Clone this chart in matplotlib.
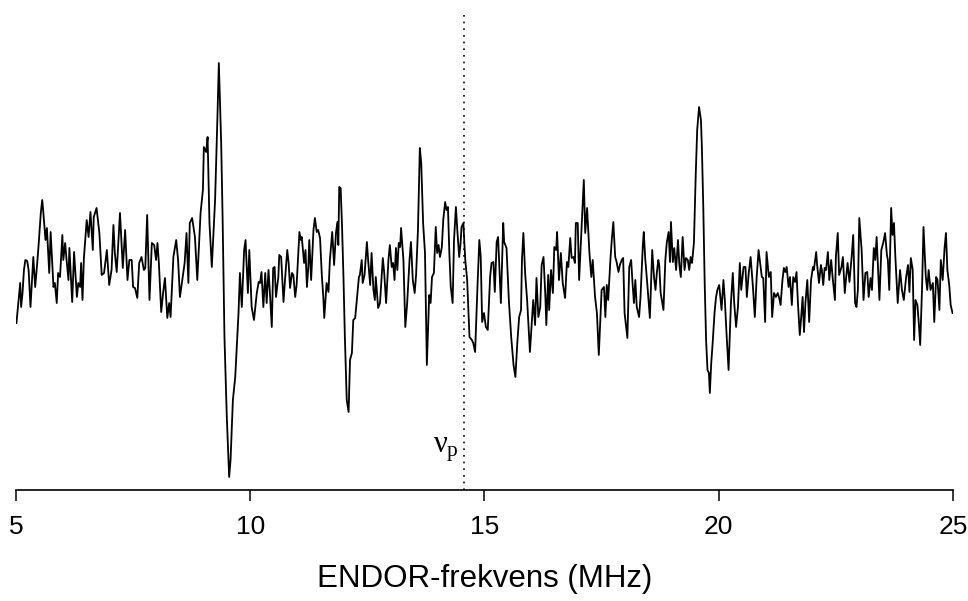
import numpy as np
import matplotlib.pyplot as plt

# ENDOR spectrum (frequency in MHz, signal in arb. units)
freq = [
    5.01, 5.09, 5.11, 5.14, 5.17, 5.20, 5.24, 5.27, 5.31, 5.37, 5.41, 5.45, 5.48, 5.53, 5.56, 5.58,
    5.63, 5.66, 5.71, 5.74, 5.80, 5.83, 5.87, 5.90, 5.94, 5.99, 6.01, 6.05, 6.08, 6.12, 6.14, 6.20,
    6.24, 6.30, 6.33, 6.37, 6.39, 6.42, 6.45, 6.51, 6.55, 6.59, 6.64, 6.66, 6.72, 6.78, 6.83, 6.88,
    6.94, 6.99, 7.04, 7.08, 7.11, 7.15, 7.22, 7.28, 7.33, 7.38, 7.42,
    7.47, 7.50, 7.54, 7.59, 7.63, 7.68, 7.73, 7.76, 7.80, 7.85, 7.90, 7.95, 7.99, 8.02, 8.05, 8.10,
    8.14, 8.18, 8.23, 8.27, 8.30, 8.36, 8.42, 8.46,
    8.50, 8.56, 8.60, 8.64, 8.68, 8.71, 8.76, 8.82, 8.87, 8.94, 8.99, 9.01, 9.06, 9.09, 9.13, 9.18,
    9.25, 9.30, 9.33, 9.38, 9.41, 9.45, 9.50, 9.55, 9.58, 9.63, 9.68, 9.75, 9.78, 9.82, 9.87, 9.90,
    9.95, 9.98, 10.03, 10.08, 10.14, 10.18,
    10.21, 10.24, 10.28, 10.32, 10.35, 10.39, 10.42, 10.46, 10.49, 10.52, 10.55, 10.60, 10.62, 10.66,
    10.71, 10.75, 10.79, 10.82, 10.85, 10.89, 10.92, 10.96, 10.99, 11.05, 11.08, 11.10, 11.15, 11.18,
    11.21, 11.24, 11.26, 11.30, 11.35, 11.38, 11.42, 11.45, 11.49, 11.53, 11.56, 11.58, 11.63, 11.67,
    11.70, 11.75, 11.79, 11.83, 11.86, 11.88, 11.90, 11.93, 11.96, 11.99, 12.02, 12.06, 12.10, 12.13,
    12.17, 12.20, 12.24, 12.29, 12.32, 12.34, 12.38, 12.40, 12.44, 12.49, 12.52, 12.56, 12.59, 12.63,
    12.66, 12.68, 12.73,
    12.77, 12.83, 12.86, 12.90, 12.95, 12.98, 13.02, 13.05, 13.08, 13.11, 13.14, 13.17, 13.20, 13.22,
    13.27, 13.31, 13.35, 13.40, 13.43, 13.47, 13.51, 13.54, 13.58, 13.62, 13.65, 13.69, 13.73, 13.77,
    13.82, 13.85, 13.88, 13.92, 13.96, 13.99, 14.02, 14.05, 14.09, 14.12, 14.16, 14.19, 14.22, 14.25,
    14.28, 14.32, 14.35, 14.39, 14.42, 14.46, 14.49, 14.51, 14.55, 14.57, 14.59, 14.63, 14.68,
    14.73, 14.76, 14.80, 14.85, 14.89, 14.92, 14.95, 14.99, 15.03, 15.07, 15.12, 15.15, 15.19, 15.22,
    15.26, 15.29, 15.32, 15.35, 15.40, 15.42, 15.47, 15.52, 15.57, 15.62, 15.66, 15.70, 15.74, 15.78,
    15.80, 15.83, 15.87, 15.91, 15.97, 16.01, 16.04, 16.08, 16.11, 16.15, 16.19, 16.22, 16.26, 16.30,
    16.32, 16.36, 16.38, 16.42, 16.46, 16.49, 16.53, 16.55, 16.59, 16.63, 16.67, 16.72, 16.76, 16.79,
    16.83, 16.86, 16.90, 16.93, 16.95, 16.99, 17.02, 17.07, 17.10, 17.12, 17.15, 17.19, 17.24, 17.28,
    17.31, 17.36, 17.40, 17.44,
    17.50, 17.55, 17.58, 17.61, 17.64, 17.69, 17.72, 17.75, 17.79, 17.82, 17.86, 17.89, 17.93, 17.96,
    17.99, 18.05, 18.09, 18.13, 18.16, 18.19, 18.22, 18.25, 18.30, 18.33, 18.38, 18.40, 18.43, 18.48,
    18.53, 18.58, 18.62, 18.65, 18.68, 18.71, 18.73, 18.76, 18.82, 18.86, 18.89, 18.93, 18.96, 18.98,
    19.02, 19.05, 19.09, 19.13, 19.16, 19.19, 19.23, 19.27, 19.30, 19.34, 19.37, 19.40, 19.43, 19.47,
    19.51, 19.54, 19.58, 19.62, 19.64, 19.67, 19.70, 19.73, 19.76, 19.79, 19.81, 19.84, 19.87, 19.91,
    19.94, 19.97, 20.01, 20.06, 20.10, 20.13, 20.17, 20.21, 20.26, 20.30, 20.33, 20.37, 20.41, 20.45,
    20.48, 20.53, 20.57, 20.60, 20.64, 20.68, 20.73, 20.77, 20.81, 20.85,
    20.92, 20.95, 20.99, 21.02, 21.07, 21.11, 21.14, 21.18, 21.22, 21.26, 21.29, 21.32, 21.36, 21.39,
    21.42, 21.45, 21.49, 21.52, 21.56, 21.59, 21.63, 21.66, 21.69, 21.73, 21.76, 21.79, 21.82, 21.85,
    21.89, 21.93, 21.97, 22.01, 22.03, 22.08, 22.10, 22.14, 22.18, 22.20, 22.23, 22.26, 22.29, 22.33,
    22.36, 22.40, 22.43, 22.48, 22.50, 22.54, 22.57, 22.62, 22.65, 22.69, 22.72, 22.75, 22.79,
    22.84, 22.87, 22.91, 22.94, 22.97, 23.00, 23.05, 23.09, 23.13, 23.17, 23.20, 23.24, 23.27, 23.31,
    23.34, 23.37, 23.43, 23.47, 23.51, 23.55, 23.59, 23.61, 23.64, 23.68, 23.71, 23.74, 23.77, 23.82,
    23.87, 23.91, 23.95, 24.00, 24.04, 24.07, 24.10, 24.14, 24.17, 24.20, 24.24, 24.27, 24.30, 24.34,
    24.37, 24.42, 24.45, 24.48, 24.52, 24.57, 24.60, 24.64, 24.67, 24.71, 24.74, 24.78, 24.82, 24.85,
    24.88, 24.92, 24.95, 24.99,
]
signal = [
    -2.3, 1.7, -0.7, 0.7, 3.0, 4.0, 3.9, 3.0, -0.7, 4.3, 1.3, 3.5, 5.3, 8.7, 10.0, 9.0,
    6.0, 7.2, 2.7, 6.8, 1.3, 1.7, -0.3, 2.7, 2.3, 6.5, 4.0, 5.7, 4.0, 2.0, 5.2, -0.2,
    4.8, 0.3, 1.7, 1.3, 3.7, 0.0, 4.2, 8.0, 6.3, 8.8, 5.0, 8.3, 9.2, 6.7, 2.5, 2.7,
    5.0, 1.5, 3.0, 7.5, 4.7, 2.8, 8.7, 3.2, 7.0, 2.0, 4.0,
    4.0, 1.3, 1.2, 0.2, 3.7, 4.3, 3.0, 3.2, 8.5, 0.0, 5.7, 5.5, 4.0, 5.7, 3.7, -1.2,
    0.7, 2.2, -1.8, -0.3, -1.7, 4.3, 6.0, 4.0,
    0.3, 2.3, 3.7, 6.7, 1.7, 7.7, 8.2, 6.3, 2.0, 8.7, 11.0, 15.3, 14.8, 16.3, 7.7, 3.3,
    10.0, 18.3, 23.7, 15.7, 8.3, -3.7, -11.7, -17.7, -16.0, -10.0, -7.7, -1.3, 2.7, -0.7, 5.0, 6.0,
    0.7, 5.0, -0.7, -2.0, 0.7, 1.8,
    1.7, 2.8, -0.7, 2.7, -0.3, 3.0, 0.7, -2.7, 3.2, 3.3, 0.3, 2.3, 4.5, 4.3,
    -0.2, 2.5, 5.0, 3.7, 1.2, 2.7, 2.5, 0.3, 1.5, 6.8, 6.0, 6.3, 3.7, 5.0,
    1.3, 3.3, 6.0, 2.0, 7.0, 8.2, 6.8, 7.0, 6.2, 2.3, 0.3, -1.8, 1.7, 0.8,
    4.0, 6.8, 3.5, 6.7, 7.8, 5.5, 11.3, 11.2, 7.3, 2.3, -3.7, -10.0, -11.2, -6.0,
    -5.3, -2.0, -1.8, 0.7, 2.3, 2.5, 4.0, 1.7, 2.5, 5.8, 3.8, 1.5, 4.7, 1.0,
    0.0, 2.3, -0.8,
    -0.3, 4.2, 2.7, -0.3, 4.0, 5.5, 3.3, 3.7, 2.0, 5.2, 3.0, 5.7, 5.3, 7.2,
    4.0, -2.7, -0.3, 4.0, 5.8, 2.0, 0.7, 2.5, 7.0, 15.2, 13.7, 7.7, 4.7, -6.5,
    0.5, -0.3, 2.3, 2.7, 7.3, 4.7, 5.5, 4.3, 5.3, 8.0, 9.8, 9.0, 9.3, 4.7,
    1.3, -0.3, 6.0, 9.3, 7.0, 4.3, 5.7, 7.3, 7.7, 5.7, 4.0, 2.0, -3.7,
    -4.0, -4.3, -5.2, 1.3, 6.0, 4.3, -2.2, -1.3, -2.7, -3.0, 2.3, 3.7, 3.8, 0.8,
    5.8, 6.3, 3.0, -0.3, 7.7, 5.8, 5.2, 0.0, -3.7, -6.5, -7.7, -4.3, -1.7, -1.0,
    4.0, 6.7, 2.5, 0.0, -5.2, -2.2, 0.0, -2.5, 2.2, -1.7, -0.7, 3.5, 4.3, 0.3,
    -2.5, 2.5, -1.0, 3.0, 0.7, 5.3, 5.0, 6.8, 2.0, 4.7, 1.7, 0.2, 3.8, 3.3,
    6.2, 4.2, 4.3, 3.7, 7.7, 7.7, 2.0, 7.0, 10.0, 12.0, 6.7, 9.2, 4.7, 2.3,
    4.0, 0.3, -1.3, -5.5,
    1.0, 1.3, -1.7, 1.5, 0.0, 4.2, 6.2, 7.8, 4.3, 3.8, 2.8, 3.5, 4.0, 4.2,
    -1.3, -3.8, 3.3, 4.0, 1.7, -0.3, 2.0, -0.7, -1.7, 0.3, 5.5, 6.8, 4.2, 1.3,
    -1.8, 5.0, 2.2, 1.0, 2.8, 4.0, 3.5, 0.7, -1.0, 4.0, 5.7, 6.8, 3.8, 7.8,
    3.8, 5.2, 3.0, 6.0, 3.5, 2.3, 6.3, 3.0, 4.2, 4.0, 3.0, 4.3, 3.7, 5.7,
    12.7, 17.0, 19.3, 18.0, 15.3, 9.3, 1.7, -4.0, -7.0, -7.3, -9.3, -6.3, -4.3, -1.3,
    0.2, 1.0, 1.5, -1.0, 2.0, 0.0, -3.7, -7.0, -0.3, 2.7, -0.3, -2.7, -0.7, 3.7,
    1.0, 3.3, 3.3, 0.3, 2.7, 4.3, 1.3, -1.7, 2.3, 5.0,
    2.3, 2.2, -2.2, 4.8, 2.3, 2.8, -1.7, 0.7, 0.3, 0.7, 0.2, -0.5, 2.0, 3.2,
    2.8, 3.3, 1.3, 2.3, -0.5, 2.3, 1.8, 2.8, -0.3, -3.5, -1.7, 0.3, -3.2, -0.3,
    2.0, -2.2, 2.0, 3.3, 3.0, 4.8, 3.5, 1.7, 3.5, 3.0, 1.5, 3.2, 3.0, 4.8,
    2.0, 4.0, 2.3, 0.0, 4.3, 6.7, 2.5, 3.3, 4.3, 0.7, 2.3, 3.7, 1.8,
    4.5, 6.5, -0.3, -0.7, 1.0, 8.2, 5.0, 0.0, 2.7, 2.8, 0.3, 2.2, 1.0, 5.2,
    4.0, 6.3, 0.0, 5.0, 5.7, 6.7, 4.5, 4.0, 1.0, 9.2, 6.5, 7.7, 4.3, -0.3,
    3.0, 1.0, 0.0, 2.3, 3.5, 0.8, 4.2, 3.0, -4.0, 0.0, -0.5, -2.3, -4.5, 1.3,
    7.3, 2.3, 1.0, 3.0, 1.0, 1.7, -2.2, 2.3, 2.0, -1.0, 4.0, 2.0, 5.2, 6.7,
    3.0, 1.5, -0.5, -1.3,
]
nu_p = 14.56  # proton Larmor frequency marker
xticks = [5, 10, 15, 20, 25]

# upright Times-like nu with subscript p
plt.rcParams['mathtext.fontset'] = 'custom'
plt.rcParams['mathtext.rm'] = 'Liberation Serif'
plt.rcParams['mathtext.it'] = 'Liberation Serif'
fig = plt.figure(figsize=(9.68, 6.01), dpi=100)
ax = fig.add_axes([0.0165, 0.1847, 0.968, 0.8153])

ax.plot(freq, signal, color='black', lw=1.3)
ax.axvline(nu_p, ymax=0.975, color='black', lw=1.2, linestyle=(0, (1, 3)))
ax.text(nu_p - 0.12, -15.3, r'$\nu_{p}$', ha='right', va='baseline', fontsize=22)

ax.set_xlim(5, 25)
ax.set_ylim(-19, 30)
ax.set_xticks(xticks)
ax.set_xticklabels([str(t) for t in xticks], family='Liberation Sans', fontsize=19)
ax.set_yticks([])
for side in ['top', 'right', 'left']:
    ax.spines[side].set_visible(False)
ax.spines['bottom'].set_linewidth(1.2)
ax.tick_params(axis='x', length=8, width=1.1, pad=10)
ax.set_xlabel('ENDOR-frekvens (MHz)', family='Liberation Sans', fontsize=22.5, labelpad=18)

plt.savefig('out.png', dpi=100)
